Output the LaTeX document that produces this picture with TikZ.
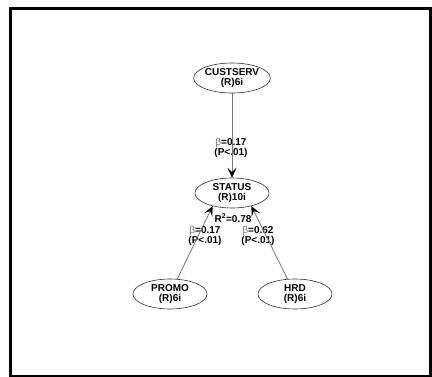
\documentclass[tikz,border=0pt]{standalone}
\usepackage{fontspec}
\setmainfont{Liberation Sans}
\usepackage{xcolor}
\usetikzlibrary{positioning,calc,arrows.meta,shapes.geometric}
\definecolor{pathgray}{RGB}{120,120,120}
\tikzset{
	construct/.style={
		draw=black!80, ellipse, line width=0.6pt,
		minimum width=74pt, minimum height=30pt,
		inner sep=0pt, align=center,
		font=\fontsize{10}{10.5}\selectfont\bfseries
	},
	coef/.style={font=\fontsize{10}{10.5}\selectfont\bfseries, align=center, inner sep=0pt},
	causal/.style={draw=pathgray, line width=0.8pt, -{Stealth[length=10pt,width=9pt,inset=4.5pt,black]}},
	frame/.style={draw, line width=3pt},
}
\newcommand{\bt}{{\mdseries\textcolor{pathgray}{β}}}

\begin{document}
\begin{tikzpicture}[x=1pt,y=-1pt]
		\useasboundingbox (0,0) rectangle (432,376);
		
		% ------------------- outer frame -------------------
		\draw[frame] (10,8.5) rectangle (430.5,376);
		
		% ------------------- constructs -------------------
		\node[construct] (cust) at (232,78) {CUSTSERV\\(R)6i};
		\node[construct] (stat) at (232,193) {STATUS\\(R)10i};
		\node[construct] (promo) at (170,294) {PROMO\\(R)6i};
		\node[construct] (hrd) at (295,294) {HRD\\(R)6i};
		
		% ------------------- coefficients -------------------
		\node[coef] (r2) at (233,218) {R\textsuperscript{2}=0.78};
		\node[coef] (bCust) at (231,148) {\bt=0.17\\(P<.01)};
		\node[coef] (bPromo) at (205,236) {\bt=0.17\\(P<.01)};
		\node[coef] (bHrd) at (258,236) {\bt=0.62\\(P<.01)};
		
		% ------------------- paths -------------------
		\draw[causal] (cust) -- (stat);
		\draw[causal] (promo) -- (stat.-146);
		\draw[causal] (hrd) -- (stat.-34);
		
	\end{tikzpicture}
\end{document}
